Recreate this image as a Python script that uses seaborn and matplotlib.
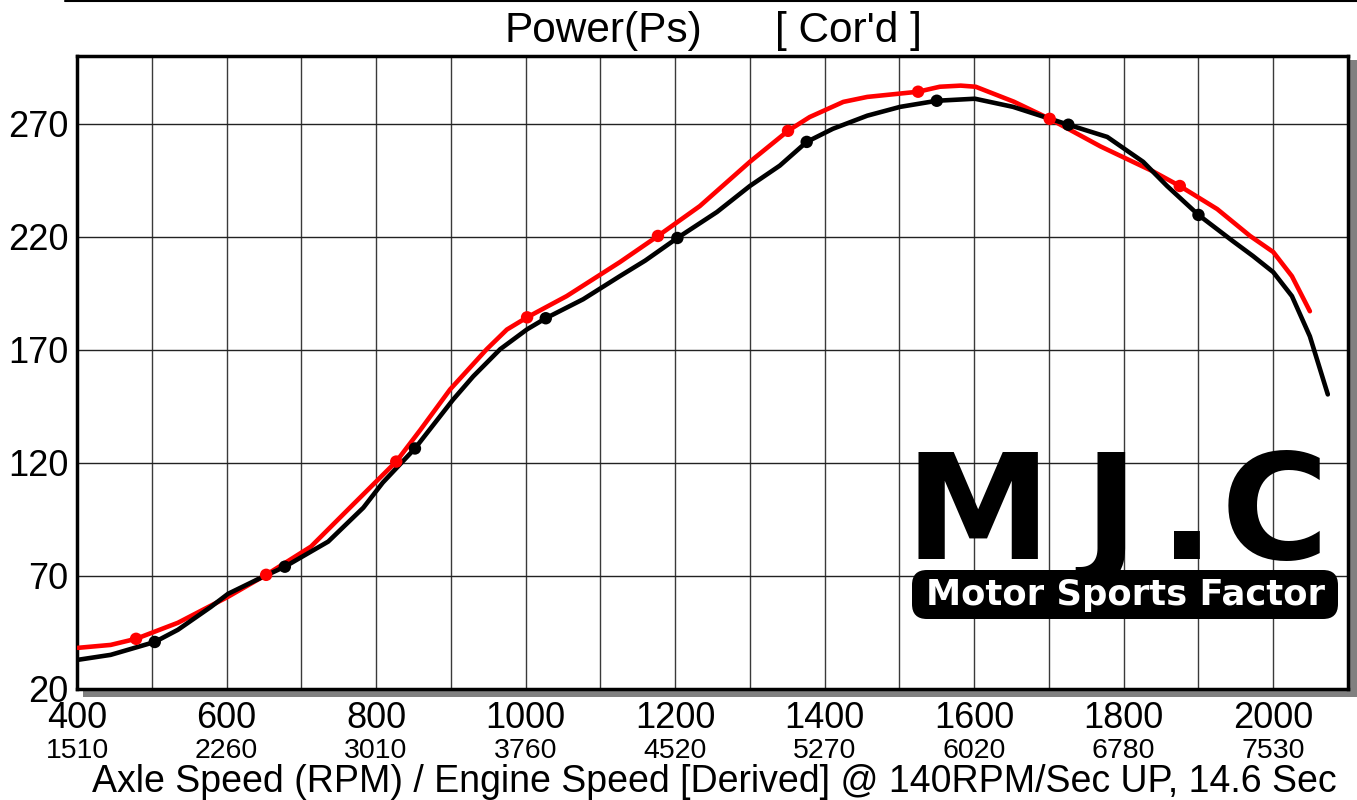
import matplotlib
matplotlib.use("Agg")
import matplotlib.pyplot as plt
import seaborn as sns
from matplotlib.patches import FancyBboxPatch, Rectangle
from matplotlib.lines import Line2D

# power curves (Ps) vs axle speed (rpm), read from the dyno sheet
red_rpm = [401, 445, 479, 535, 602, 653, 713, 765, 827, 859, 899, 948, 975, 1002,
           1055, 1126, 1177, 1233, 1300, 1351, 1380, 1425, 1457, 1525, 1554, 1582,
           1602, 1653, 1701, 1769, 1839, 1875, 1925, 1969, 2000, 2025, 2049]
red_ps = [38.2, 39.5, 42.2, 49.3, 60.8, 70.5, 83, 100.2, 120.6, 134.5, 152.5, 170.3,
          179, 184.4, 193.8, 208.8, 220.4, 233.6, 253.2, 266.9, 273, 279.7, 281.9,
          284.2, 286.4, 286.9, 286.4, 279.8, 272.2, 260, 249, 242.5, 232.3, 220.4,
          213.3, 202.6, 187.1]

black_rpm = [401, 445, 504, 535, 579, 602, 646, 678, 736, 783, 809, 852, 903, 930,
             966, 1002, 1027, 1077, 1126, 1160, 1203, 1256, 1300, 1340, 1376, 1411,
             1457, 1501, 1550, 1601, 1652, 1726, 1778, 1826, 1858, 1900, 1946, 1973,
             2000, 2025, 2049, 2073]
black_ps = [32.9, 35.1, 40.8, 46.2, 56.3, 62.1, 69.2, 74.1, 85.2, 100.2, 111.3, 126.4,
            148, 158.3, 170.3, 179.1, 184, 192.4, 202.6, 209.5, 219.5, 231, 242.5,
            251.5, 262, 267.8, 273.6, 277.5, 280.2, 281.1, 277.5, 269.6, 264.2, 253.2,
            242.5, 229.7, 218.1, 211.5, 204.4, 193.8, 176, 150.3]

# dot markers
red_mark_rpm = [479, 653, 827, 1002, 1177, 1351, 1525, 1701, 1875]
red_mark_ps = [42.2, 70.5, 120.6, 184.4, 220.4, 266.9, 284.2, 272.2, 242.5]
black_mark_rpm = [504, 678, 852, 1027, 1203, 1376, 1550, 1726, 1900]
black_mark_ps = [40.8, 74.1, 126.4, 184, 219.5, 262, 280.2, 269.6, 229.7]

# ticks
axle_ticks = [400, 600, 800, 1000, 1200, 1400, 1600, 1800, 2000]
engine_labels = ["1510", "2260", "3010", "3760", "4520", "5270", "6020", "6780", "7530"]
ps_ticks = [20, 70, 120, 170, 220, 270]

sns.set_theme(style="white")
plt.rcParams["font.family"] = ["Liberation Sans", "DejaVu Sans"]
plt.rcParams["text.color"] = "black"
plt.rcParams["xtick.color"] = "black"
plt.rcParams["ytick.color"] = "black"
plt.rcParams["xtick.labelcolor"] = "black"
plt.rcParams["ytick.labelcolor"] = "black"

W, H = 1357, 800
fig = plt.figure(figsize=(W / 100, H / 100), dpi=100)
ax = fig.add_axes([77 / W, 1 - 689 / H, (1348 - 77) / W, (689 - 56) / H])

# drop shadow behind the plot frame
fig.patches.append(Rectangle((83 / W, 1 - 697 / H), (1357 - 83) / W, (697 - 60) / H,
                             transform=fig.transFigure, facecolor="#808080",
                             edgecolor="none", zorder=-1))
fig.add_artist(Line2D([65 / W, 1], [0.999, 0.999], color="black", lw=1.5))

sns.lineplot(x=red_rpm, y=red_ps, ax=ax, color="#ff0000", lw=3.3, zorder=3,
             solid_joinstyle="round", solid_capstyle="round")
sns.lineplot(x=black_rpm, y=black_ps, ax=ax, color="black", lw=3.3, zorder=4,
             solid_joinstyle="round", solid_capstyle="round")
sns.scatterplot(x=red_mark_rpm, y=red_mark_ps, ax=ax, color="#ff0000", s=80,
                edgecolor="none", zorder=5)
sns.scatterplot(x=black_mark_rpm, y=black_mark_ps, ax=ax, color="black", s=80,
                edgecolor="none", zorder=6)

ax.set_xlim(400, 2100)
ax.set_ylim(20, 300)
ax.set_xticks(axle_ticks)
ax.set_xticks(list(range(500, 2100, 200)), minor=True)
ax.set_yticks(ps_ticks)
ax.grid(True, which="both", axis="x", color="#3a3a3a", lw=1)
ax.grid(True, which="major", axis="y", color="#222222", lw=1)
ax.tick_params(axis="both", which="both", length=0, labelsize=26, colors="black")
ax.tick_params(axis="x", pad=9)
ax.tick_params(axis="y", pad=6)
for sp in ax.spines.values():
    sp.set_color("black")
    sp.set_linewidth(2.5)
ax.set_xlabel("")
ax.set_ylabel("")

# engine speed row under the axle speed labels
sec = ax.secondary_xaxis("bottom")
sec.set_xticks(axle_ticks, labels=engine_labels)
sec.tick_params(length=0, labelsize=20.5, pad=35, colors="black")
sec.spines["bottom"].set_visible(False)

fig.text(505 / W, 1 - 31 / H, "Power(Ps)", fontsize=30.5, ha="left", va="center")
fig.text(775 / W, 1 - 31 / H, "[ Cor'd ]", fontsize=30.5, ha="left", va="center")
fig.text(714 / W, 1 - 792 / H,
         "Axle Speed (RPM) / Engine Speed [Derived] @ 140RPM/Sec UP, 14.6 Sec",
         fontsize=27, ha="center", va="baseline")

# MJ.C logo
for ch, cx in [("M", 978), ("J", 1111), (".", 1187), ("C", 1275)]:
    fig.text(cx / W, 1 - 559 / H, ch, fontsize=106, fontweight="bold",
             family="DejaVu Sans", ha="center", va="baseline", color="black", zorder=10)
box = FancyBboxPatch((912 / W, 1 - 619 / H), (1338 - 912) / W, (619 - 570) / H,
                     boxstyle="round,pad=0,rounding_size=0.011",
                     mutation_aspect=W / H, transform=fig.transFigure,
                     facecolor="black", edgecolor="none", zorder=10)
fig.patches.append(box)
fig.text(1125 / W, 1 - 595 / H, "Motor Sports Factor", fontsize=25.5, fontweight="bold",
         family="DejaVu Sans", ha="center", va="center", color="white", zorder=11)

fig.savefig("out.png", dpi=100)
